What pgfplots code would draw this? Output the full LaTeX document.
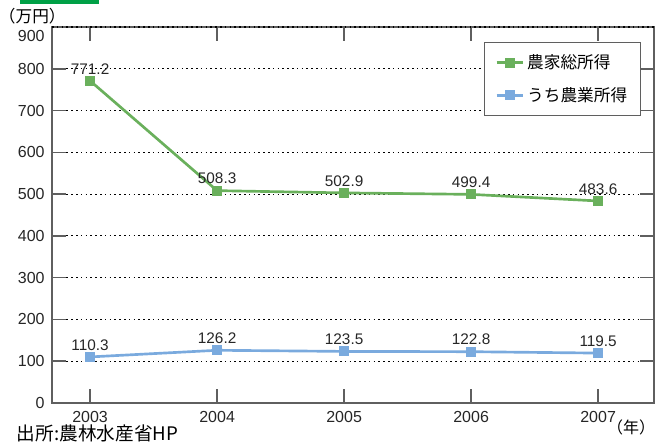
\documentclass[border=0pt]{standalone}
\usepackage{pgfplots}
\pgfplotsset{compat=1.18}
\usepackage{fontspec}
\setmainfont{Liberation Sans}
\newfontfamily\jp{Noto Sans CJK JP}
\definecolor{lgreen}{RGB}{106,176,92}
\definecolor{lblue}{RGB}{122,170,222}
\definecolor{axgray}{RGB}{95,95,95}
\definecolor{tgreen}{RGB}{0,160,70}
\begin{document}
\begin{tikzpicture}
\path[use as bounding box] (0,0) rectangle (491.25pt,332.25pt);
\fill[tgreen] (15pt,329.25pt) rectangle (74.25pt,332.25pt);
\begin{axis}[
 at={(39pt,30pt)}, anchor=south west, scale only axis,
 width=451.5pt, height=282pt,
 xmin=2002.7, xmax=2007.44, ymin=0, ymax=900,
 xtick={2003,2004,2005,2006,2007},
 xticklabels={2003,2004,2005,2006,2007},
 ytick={0,100,...,800},
 yticklabels={0,100,200,300,400,500,600,700,800},
 extra y ticks={900}, extra y tick labels={900},
 extra y tick style={yticklabel style={yshift=-7pt}, major tick length=0pt},
 tick align=inside, major tick length=10.5pt,
 tick style={axgray, line width=1.1pt},
 axis line style={axgray, line width=1.1pt},
 ymajorgrids, grid style={black, line width=0.8pt, dash pattern=on 1.2pt off 2.4pt},
 tick label style={font=\fontsize{12}{14}\selectfont, text=black!85},
 xticklabel style={yshift=-2.5pt},
 yticklabel style={xshift=-2pt},
 legend style={at={(0.7176,0.960)}, anchor=north west, draw=axgray, line width=0.8pt,
   font=\jp\fontsize{12.5}{15}\selectfont, inner xsep=8pt, inner ysep=7pt, row sep=8.5pt},
 legend cell align=left,
 legend image code/.code={\draw[mark repeat=2,mark phase=2] plot coordinates {(0pt,0pt)(10pt,0pt)(20pt,0pt)};},
 nodes near coords, point meta=explicit symbolic,
 every node near coord/.append style={font=\fontsize{11.5}{13}\selectfont, text=black!85, inner sep=0pt, anchor=south, yshift=5pt},
]
\addplot[lgreen, line width=2pt, mark=square*, mark size=3.4pt, mark options={fill=lgreen, draw=lgreen, line width=0pt}]
 coordinates {(2003,771.2)[771.2] (2004,508.3)[508.3] (2005,502.9)[502.9] (2006,499.4)[499.4] (2007,483.6)[483.6]};
\addlegendentry{農家総所得}
\addplot[lblue, line width=2pt, mark=square*, mark size=3.4pt, mark options={fill=lblue, draw=lblue, line width=0pt}]
 coordinates {(2003,110.3)[110.3] (2004,126.2)[126.2] (2005,123.5)[123.5] (2006,122.8)[122.8] (2007,119.5)[119.5]};
\addlegendentry{うち農業所得}
\end{axis}
\node[anchor=west, inner sep=0pt, font=\jp\fontsize{12.5}{14}\selectfont] at (-1pt,320pt) {（万円）};
\node[anchor=south west, inner sep=0pt, font=\jp\fontsize{14}{16}\selectfont] at (12.5pt,0.5pt) {出所:農林水産省HP};
\node[anchor=east, inner sep=0pt, font=\jp\fontsize{12}{14}\selectfont] at (491.5pt,11.5pt) {（年）};
\end{tikzpicture}
\end{document}
